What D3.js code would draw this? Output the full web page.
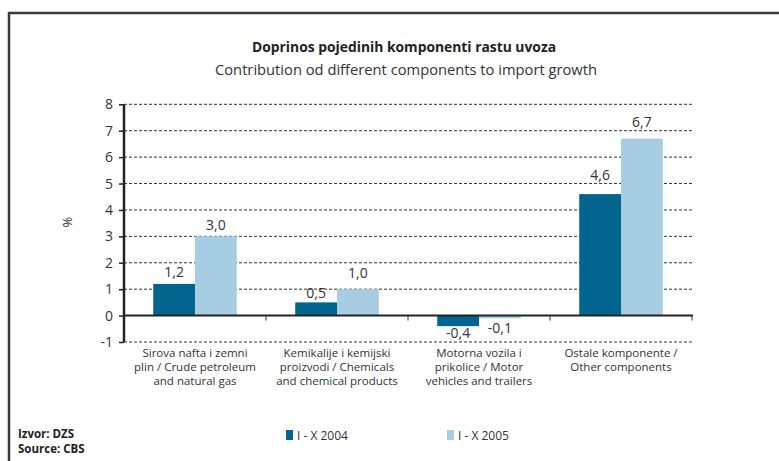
<!DOCTYPE html>
<html>
<head>
<meta charset="utf-8">
<script src="https://cdn.jsdelivr.net/npm/d3@7"></script>
<style>
  body { margin: 0; background: #fff; }
  svg { display: block; font-family: 'Open Sans', 'Liberation Sans', sans-serif; }
</style>
</head>
<body>
<svg id="chart" width="779" height="461"></svg>
<script>
const categories = [
  ['Sirova nafta i zemni', 'plin / Crude petroleum', 'and natural gas'],
  ['Kemikalije i kemijski', 'proizvodi / Chemicals', 'and chemical products'],
  ['Motorna vozila i', 'prikolice / Motor', 'vehicles and trailers'],
  ['Ostale komponente /', 'Other components']
]
const seriesNames = ['I - X 2004', 'I - X 2005']
const values2004 = [1.2, 0.5, -0.4, 4.6]
const values2005 = [3.0, 1.0, -0.1, 6.7]
const yTicks = [-1, 0, 1, 2, 3, 4, 5, 6, 7, 8]

const colors = ['#03648e', '#a6cde1']
// value labels sit at slightly different heights in the original (px from bar end)
const labelGap = [[7, 6], [4, 11], [12, 15], [14, 12]]
const fmt = v => v.toFixed(1).replace('.', ',')

const svg = d3.select('#chart')

// Frame around the chart (cut off on the right and bottom)
svg.append('rect')
  .attr('x', 9).attr('y', 13)
  .attr('width', 800).attr('height', 470)
  .attr('fill', 'none')
  .attr('stroke', '#3a3a3a')
  .attr('stroke-width', 2.5)

// Titles
svg.append('text')
  .attr('x', 404).attr('y', 52)
  .attr('text-anchor', 'middle')
  .style('font-size', '14px')
  .style('font-weight', 'bold')
  .attr('textLength', 304)
  .attr('lengthAdjust', 'spacingAndGlyphs')
  .style('fill', '#222')
  .text('Doprinos pojedinih komponenti rastu uvoza')

svg.append('text')
  .attr('x', 406).attr('y', 75)
  .attr('text-anchor', 'middle')
  .style('font-size', '14px')
  .attr('textLength', 382)
  .attr('lengthAdjust', 'spacingAndGlyphs')
  .style('fill', '#333')
  .text('Contribution od different components to import growth')

const x0 = d3.scaleBand()
  .domain(d3.range(categories.length))
  .range([124, 692])

const x1 = d3.scaleBand()
  .domain([0, 1])
  .range([0, x0.bandwidth()])
  .paddingOuter(0.7)

const y = d3.scaleLinear()
  .domain([-1, 8])
  .range([342, 104.3])

// Dashed grid lines
svg.append('g')
  .selectAll('line')
  .data(yTicks.filter(t => t !== 0))
  .join('line')
  .attr('x1', 124).attr('x2', 692)
  .attr('y1', d => y(d)).attr('y2', d => y(d))
  .attr('stroke', '#333')
  .attr('stroke-width', 1)
  .attr('stroke-dasharray', '3,2')

// Bars
const series = [values2004, values2005]
const groups = svg.append('g')
  .selectAll('g')
  .data(categories.map((c, i) => i))
  .join('g')
  .attr('transform', i => `translate(${x0(i)},0)`)

groups.selectAll('rect')
  .data(i => series.map((s, k) => ({ k, v: s[i] })))
  .join('rect')
  .attr('x', d => x1(d.k))
  .attr('width', x1.bandwidth())
  .attr('y', d => y(Math.max(0, d.v)))
  .attr('height', d => Math.abs(y(d.v) - y(0)))
  .attr('fill', d => colors[d.k])

// Value labels
groups.selectAll('text')
  .data(i => series.map((s, k) => ({ k, v: s[i], gap: labelGap[i][k] })))
  .join('text')
  .attr('x', d => x1(d.k) + x1.bandwidth() / 2)
  .attr('y', d => d.v >= 0 ? y(d.v) - d.gap : y(d.v) + d.gap)
  .attr('text-anchor', 'middle')
  .style('font-size', '14px')
  .style('fill', '#333')
  .text(d => fmt(d.v))

// Y axis
const yAxis = d3.axisLeft(y)
  .tickValues(yTicks)
  .tickSize(5)
  .tickPadding(6)
  .tickFormat(d3.format('d'))

const yG = svg.append('g')
  .attr('transform', 'translate(124,0)')
  .call(yAxis)
yG.select('.domain').attr('stroke', '#222').attr('stroke-width', 2.5)
  .attr('d', `M0,${y(8)}V${y(-1)}`)
yG.selectAll('.tick line').attr('stroke', '#222').attr('stroke-width', 1.5)
yG.selectAll('.tick text')
  .style('font-size', '14px')
  .style('font-family', "'Open Sans', sans-serif")
  .style('fill', '#333')
  .text(d => d < 0 ? '-' + Math.abs(d) : d)

// Zero line with category ticks
svg.append('line')
  .attr('x1', 124).attr('x2', 693)
  .attr('y1', y(0)).attr('y2', y(0))
  .attr('stroke', '#222')
  .attr('stroke-width', 2)

svg.append('g')
  .selectAll('line')
  .data(d3.range(1, categories.length + 1))
  .join('line')
  .attr('x1', i => x0.step() * i + 124).attr('x2', i => x0.step() * i + 124)
  .attr('y1', y(0)).attr('y2', y(0) + 5)
  .attr('stroke', '#333')
  .attr('stroke-width', 1)

// Category labels, one text per line
categories.forEach((lines, i) => {
  svg.append('g')
    .selectAll('text')
    .data(lines)
    .join('text')
    .attr('x', x0(i) + x0.bandwidth() / 2)
    .attr('y', (d, j) => 357 + j * 14)
    .attr('text-anchor', 'middle')
    .style('font-size', '11.5px')
    .style('fill', '#333')
    .text(d => d)
})

// Y label
svg.append('text')
  .attr('transform', 'translate(72,222) rotate(-90)')
  .attr('text-anchor', 'middle')
  .style('font-size', '13px')
  .style('fill', '#333')
  .text('%')

// Legend
const legend = svg.append('g')
  .selectAll('g')
  .data(seriesNames)
  .join('g')
  .attr('transform', (d, i) => `translate(${286 + i * 161},430)`)

legend.append('rect')
  .attr('width', 7).attr('height', 10)
  .attr('fill', (d, i) => colors[i])

legend.append('text')
  .attr('x', 11).attr('y', 9.5)
  .style('font-size', '12px')
  .style('fill', '#333')
  .text(d => d)

// Source
svg.append('text')
  .attr('x', 18).attr('y', 438)
  .style('font-size', '11.5px')
  .style('font-weight', 'bold')
  .style('fill', '#222')
  .text('Izvor: DZS')

svg.append('text')
  .attr('x', 18).attr('y', 453)
  .style('font-size', '11.5px')
  .style('font-weight', 'bold')
  .style('fill', '#222')
  .text('Source: CBS')
</script>
</body>
</html>
